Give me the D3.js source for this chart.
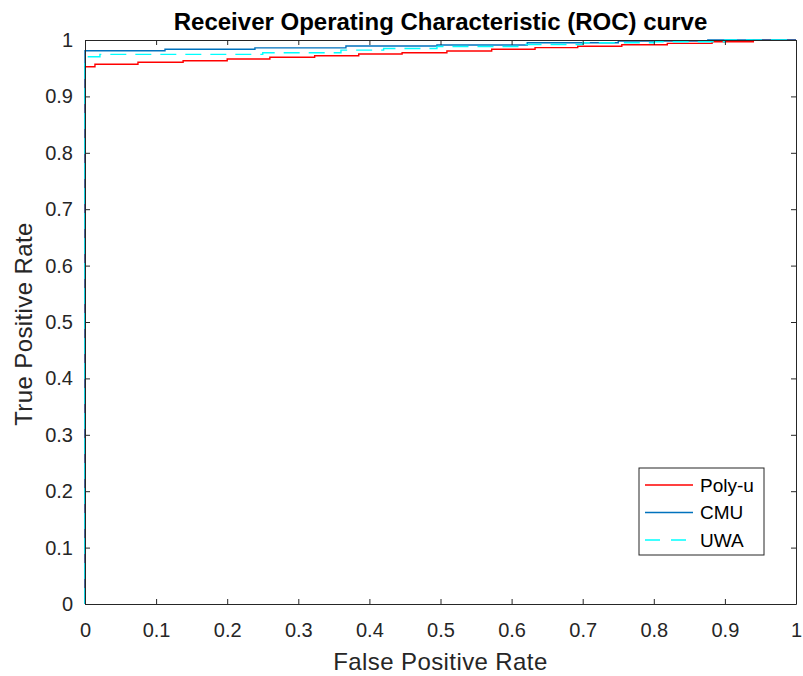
<!DOCTYPE html>
<html>
<head>
<meta charset="utf-8">
<script src="https://cdn.jsdelivr.net/npm/d3@7"></script>
<style>
  html, body { margin: 0; padding: 0; background: #fff; }
  svg { display: block; font-family: "Liberation Sans", Arial, Helvetica, sans-serif; }
</style>
</head>
<body>
<div id="chart"></div>
<script>
(() => {
  // ------- data -------
  const seriesNames = ["Poly-u", "CMU", "UWA"];

  const polyFpr = [0, 0, 0.014, 0.0745, 0.138, 0.200, 0.260, 0.323, 0.385, 0.446, 0.509, 0.572, 0.633, 0.693, 0.755, 0.819, 0.882, 0.940, 1];
  const polyTpr = [0, 0.9527, 0.9569, 0.9605, 0.9633, 0.9663, 0.9693, 0.9722, 0.9752, 0.9775, 0.9805, 0.9835, 0.9864, 0.9889, 0.9917, 0.9941, 0.9970, 1, 1];

  const cmuFpr = [0, 0, 0.1125, 0.239, 0.367, 0.495, 0.622, 0.750, 0.876, 1];
  const cmuTpr = [0, 0.9810, 0.9835, 0.9860, 0.9894, 0.9911, 0.9952, 0.9980, 1, 1];

  const uwaFpr = [0, 0, 0.021, 0.250, 0.360, 0.420, 0.495, 0.620, 0.700, 0.800, 0.900, 1];
  const uwaTpr = [0, 0.9704, 0.9746, 0.9775, 0.9820, 0.9850, 0.9885, 0.9920, 0.9950, 0.9970, 1, 1];

  const xTicks = [0, 0.1, 0.2, 0.3, 0.4, 0.5, 0.6, 0.7, 0.8, 0.9, 1];
  const yTicks = [0, 0.1, 0.2, 0.3, 0.4, 0.5, 0.6, 0.7, 0.8, 0.9, 1];

  // ------- layout -------
  const width = 803, height = 676;
  const margin = { top: 40, right: 7, bottom: 72, left: 85 };
  const w = width - margin.left - margin.right;
  const h = height - margin.top - margin.bottom;
  const AXIS = "#262626";

  const svg = d3.select("#chart").append("svg")
    .attr("width", width).attr("height", height);

  const g = svg.append("g").attr("transform", `translate(${margin.left},${margin.top})`);

  const x = d3.scaleLinear().domain([0, 1]).range([0, w]);
  const y = d3.scaleLinear().domain([0, 1]).range([h, 0]);

  const fmt = (v) => String(v);

  const styleAxis = (sel) => {
    sel.select(".domain").attr("stroke", AXIS).attr("stroke-width", 1);
    sel.selectAll(".tick line").attr("stroke", AXIS).attr("stroke-width", 1);
    sel.selectAll(".tick text").attr("fill", AXIS).style("font-size", "20px");
  };

  // curves
  const line = d3.line()
    .x(d => x(d[0]))
    .y(d => y(d[1]))
    .curve(d3.curveStepAfter);

  const curves = [
    { name: seriesNames[0], xs: polyFpr, ys: polyTpr, color: "#ff0000", dash: null, width: 1.4 },
    { name: seriesNames[1], xs: cmuFpr, ys: cmuTpr, color: "#0072bd", dash: null, width: 1.4 },
    { name: seriesNames[2], xs: uwaFpr, ys: uwaTpr, color: "#00ffff", dash: "16,9", width: 1.4 }
  ];

  curves.forEach(c => {
    g.append("path")
      .datum(c.xs.map((v, i) => [v, c.ys[i]]))
      .attr("fill", "none")
      .attr("stroke", c.color)
      .attr("stroke-width", c.width)
      .attr("stroke-dasharray", c.dash)
      .attr("d", line);
  });

  // axes (ticks point inward, box all round)
  g.append("g")
    .attr("transform", `translate(0,${h})`)
    .call(d3.axisBottom(x).tickValues(xTicks).tickFormat(fmt).tickSizeInner(-5).tickSizeOuter(0).tickPadding(19))
    .call(styleAxis);

  g.append("g")
    .call(d3.axisLeft(y).tickValues(yTicks).tickFormat(fmt).tickSizeInner(-5).tickSizeOuter(0).tickPadding(12))
    .call(styleAxis);

  g.append("g")
    .call(d3.axisTop(x).tickValues(xTicks).tickFormat("").tickSizeInner(-5).tickSizeOuter(0))
    .call(styleAxis);

  g.append("g")
    .attr("transform", `translate(${w},0)`)
    .call(d3.axisRight(y).tickValues(yTicks).tickFormat("").tickSizeInner(-5).tickSizeOuter(0))
    .call(styleAxis);

  // title + labels
  svg.append("text")
    .attr("x", margin.left + w / 2).attr("y", 30)
    .attr("text-anchor", "middle")
    .attr("fill", "#000")
    .style("font-size", "24px").style("font-weight", "bold")
    .text("Receiver Operating Characteristic (ROC) curve");

  svg.append("text")
    .attr("x", margin.left + w / 2).attr("y", 670)
    .attr("text-anchor", "middle")
    .attr("fill", AXIS)
    .style("font-size", "24px").style("letter-spacing", "0.4px")
    .text("False Positive Rate");

  svg.append("text")
    .attr("transform", `translate(32,${margin.top + h / 2 + 2}) rotate(-90)`)
    .attr("text-anchor", "middle")
    .attr("fill", AXIS)
    .style("font-size", "24px").style("letter-spacing", "0.4px")
    .text("True Positive Rate");

  // legend
  const lg = svg.append("g").attr("transform", "translate(639,468)");
  lg.append("rect")
    .attr("width", 125).attr("height", 87)
    .attr("fill", "#fff")
    .attr("stroke", AXIS).attr("stroke-width", 1);

  curves.forEach((c, i) => {
    const yy = 17 + i * 27.5;
    lg.append("line")
      .attr("x1", 6).attr("x2", 54)
      .attr("y1", yy).attr("y2", yy)
      .attr("stroke", c.color)
      .attr("stroke-width", c.width)
      .attr("stroke-dasharray", c.dash ? "15,11" : null);
    lg.append("text")
      .attr("x", 61).attr("y", yy)
      .attr("dy", "0.35em")
      .attr("fill", "#000")
      .style("font-size", "19px")
      .text(c.name);
  });
})();
</script>
</body>
</html>
